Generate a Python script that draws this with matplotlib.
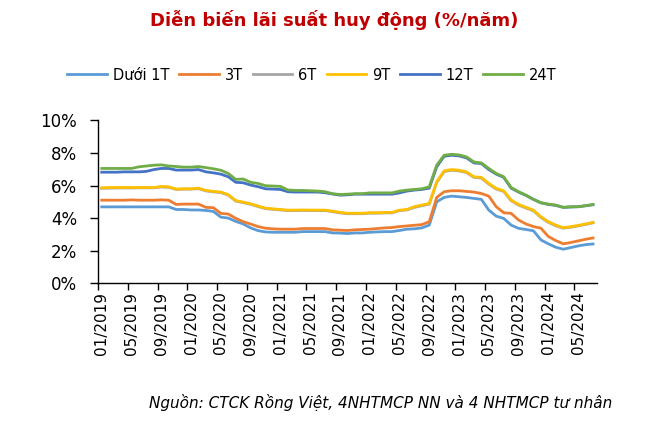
import numpy as np
import matplotlib
matplotlib.use('Agg')
import matplotlib.pyplot as plt

plt.rcParams['font.family'] = ['DejaVu Sans']

# monthly data, 01/2019 .. 07/2024
under_1m = [4.69, 4.69, 4.69, 4.69, 4.69, 4.69, 4.69, 4.69, 4.69, 4.69,
            4.53, 4.53, 4.50, 4.50, 4.47, 4.41, 4.06, 4.00, 3.80, 3.64,
            3.40, 3.23, 3.15, 3.13, 3.13, 3.13, 3.13, 3.17, 3.17, 3.17,
            3.17, 3.09, 3.08, 3.05, 3.09, 3.09, 3.13, 3.15, 3.17, 3.17,
            3.24, 3.32, 3.34, 3.40, 3.57, 5.00, 5.27, 5.35, 5.31, 5.27,
            5.21, 5.15, 4.49, 4.12, 3.98, 3.57, 3.37, 3.30, 3.22, 2.66,
            2.42, 2.21, 2.09, 2.19, 2.29, 2.37, 2.41]
m3 = [5.10, 5.10, 5.10, 5.10, 5.12, 5.10, 5.10, 5.10, 5.12, 5.10,
      4.84, 4.86, 4.86, 4.86, 4.66, 4.64, 4.29, 4.25, 3.99, 3.78,
      3.64, 3.48, 3.38, 3.34, 3.32, 3.32, 3.32, 3.36, 3.36, 3.36,
      3.36, 3.28, 3.26, 3.24, 3.28, 3.30, 3.32, 3.36, 3.40, 3.42,
      3.48, 3.52, 3.56, 3.60, 3.78, 5.27, 5.62, 5.68, 5.68, 5.64,
      5.60, 5.51, 5.35, 4.70, 4.33, 4.29, 3.88, 3.64, 3.48, 3.38,
      2.87, 2.62, 2.42, 2.50, 2.60, 2.70, 2.78]
m6 = [5.83, 5.84, 5.85, 5.85, 5.85, 5.86, 5.86, 5.86, 5.91, 5.89,
      5.76, 5.78, 5.78, 5.81, 5.67, 5.61, 5.57, 5.41, 5.05, 4.95,
      4.85, 4.71, 4.58, 4.54, 4.50, 4.46, 4.46, 4.47, 4.46, 4.46,
      4.46, 4.40, 4.32, 4.27, 4.27, 4.27, 4.30, 4.30, 4.32, 4.32,
      4.46, 4.50, 4.66, 4.76, 4.86, 6.18, 6.86, 6.94, 6.90, 6.80,
      6.50, 6.46, 6.09, 5.78, 5.64, 5.07, 4.80, 4.62, 4.45, 4.04,
      3.74, 3.53, 3.38, 3.44, 3.52, 3.61, 3.71]
m9 = [5.86, 5.88, 5.88, 5.88, 5.88, 5.88, 5.88, 5.88, 5.94, 5.92,
      5.78, 5.80, 5.80, 5.84, 5.70, 5.64, 5.60, 5.44, 5.08, 4.98,
      4.88, 4.74, 4.61, 4.57, 4.53, 4.49, 4.49, 4.50, 4.49, 4.49,
      4.49, 4.43, 4.35, 4.30, 4.30, 4.30, 4.33, 4.33, 4.35, 4.35,
      4.49, 4.53, 4.70, 4.80, 4.90, 6.23, 6.90, 6.98, 6.94, 6.84,
      6.54, 6.50, 6.13, 5.82, 5.68, 5.11, 4.84, 4.66, 4.49, 4.08,
      3.78, 3.57, 3.41, 3.47, 3.55, 3.64, 3.74]
m12 = [6.82, 6.82, 6.82, 6.84, 6.84, 6.84, 6.87, 6.98, 7.05, 7.05,
       6.95, 6.95, 6.95, 6.98, 6.84, 6.78, 6.70, 6.54, 6.20, 6.17,
       6.03, 5.93, 5.80, 5.78, 5.76, 5.62, 5.60, 5.60, 5.60, 5.60,
       5.56, 5.48, 5.41, 5.43, 5.47, 5.47, 5.47, 5.47, 5.47, 5.47,
       5.55, 5.66, 5.72, 5.76, 5.84, 7.15, 7.80, 7.86, 7.82, 7.70,
       7.39, 7.35, 6.98, 6.70, 6.50, 5.84, 5.60, 5.39, 5.15, 4.94,
       4.84, 4.78, 4.66, 4.68, 4.70, 4.76, 4.82]
m24 = [7.05, 7.05, 7.05, 7.05, 7.05, 7.15, 7.20, 7.25, 7.27, 7.20,
       7.17, 7.13, 7.13, 7.17, 7.10, 7.03, 6.94, 6.74, 6.38, 6.40,
       6.20, 6.13, 5.99, 5.97, 5.95, 5.73, 5.70, 5.70, 5.68, 5.66,
       5.62, 5.50, 5.45, 5.47, 5.50, 5.50, 5.55, 5.55, 5.55, 5.55,
       5.66, 5.72, 5.76, 5.80, 5.92, 7.25, 7.86, 7.92, 7.88, 7.76,
       7.45, 7.39, 7.05, 6.74, 6.54, 5.88, 5.62, 5.41, 5.15, 4.94,
       4.86, 4.80, 4.66, 4.70, 4.70, 4.76, 4.84]

series = [
    ('Dưới 1T', under_1m, '#5B9BD5'),
    ('3T', m3, '#ED7D31'),
    ('6T', m6, '#A5A5A5'),
    ('9T', m9, '#FFC000'),
    ('12T', m12, '#4472C4'),
    ('24T', m24, '#70AD47'),
]

tick_labels = ['01/2019', '05/2019', '09/2019', '01/2020', '05/2020', '09/2020',
               '01/2021', '05/2021', '09/2021', '01/2022', '05/2022', '09/2022',
               '01/2023', '05/2023', '09/2023', '01/2024', '05/2024']

fig = plt.figure(figsize=(6.69, 4.24), dpi=100)
ax = fig.add_axes([0.1465, 0.332, 0.7455, 0.384])

x = np.arange(len(m24))
for name, vals, col in series:
    ax.plot(x, vals, color=col, lw=2.0, label=name, solid_joinstyle='round')

ax.set_xlim(-0.5, len(x) - 0.5)
ax.set_ylim(0, 10)
ax.set_yticks(np.arange(0, 11, 2))
ax.set_yticklabels([f'{v}%' for v in range(0, 11, 2)], fontsize=12)

ax.set_xticks(np.arange(0, len(tick_labels) * 4, 4))
ax.set_xticklabels(tick_labels, rotation=90, fontsize=11)
ax.tick_params(axis='x', which='major', length=0, pad=6)
ax.set_xticks(np.arange(-0.5, 64, 4), minor=True)
ax.tick_params(axis='x', which='minor', length=5, width=1, direction='out')
ax.tick_params(axis='y', length=6, width=1, direction='out', pad=9)

for s in ['top', 'right']:
    ax.spines[s].set_visible(False)
for s in ['left', 'bottom']:
    ax.spines[s].set_linewidth(1)
    ax.spines[s].set_color('black')

fig.text(0.5, 0.953, 'Diễn biến lãi suất huy động (%/năm)', ha='center', va='center',
         fontsize=13, fontweight='bold', color='#C00000')

fig.legend(loc='center', bbox_to_anchor=(0.466, 0.823), ncol=6, frameon=False,
           fontsize=10.5, handlelength=2.7, handletextpad=0.4, columnspacing=0.7)

fig.text(0.915, 0.05, 'Nguồn: CTCK Rồng Việt, 4NHTMCP NN và 4 NHTMCP tư nhân',
         ha='right', va='center', fontsize=11, style='italic')

fig.savefig('out.png', dpi=100)
